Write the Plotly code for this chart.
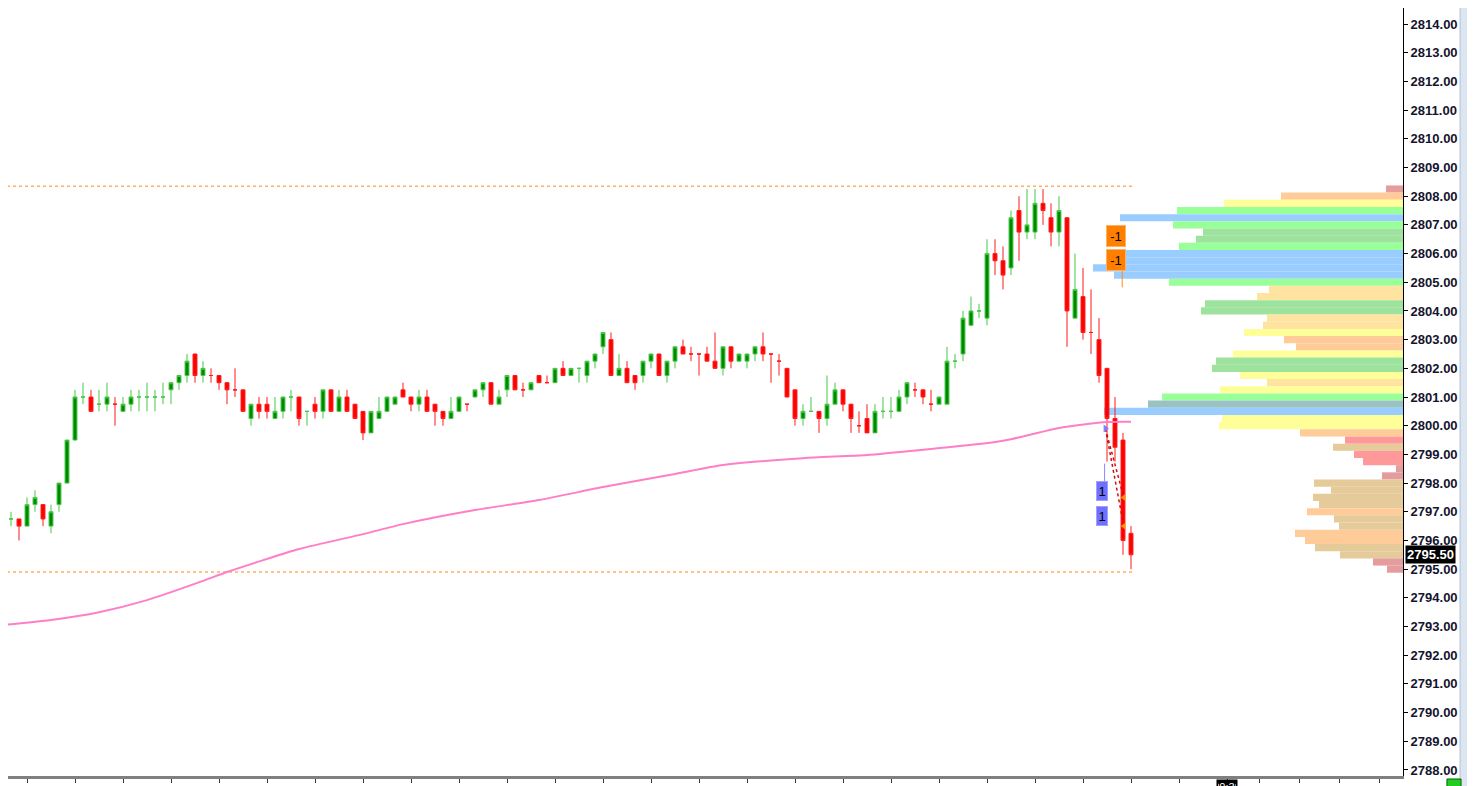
import plotly.graph_objects as go

# candles (5 min bars), oldest first
opens = [2796.5, 2796.75, 2796.75, 2796.5, 2797.25, 2797.25, 2796.5, 2797.25, 2798.0, 2799.5,
         2801.0, 2801.0, 2800.75, 2800.75, 2800.75, 2800.5, 2800.75, 2801.0, 2801.0, 2801.0,
         2801.0, 2801.25, 2801.5, 2801.75, 2802.5, 2801.75, 2801.75, 2801.75, 2801.5, 2801.25,
         2801.25, 2800.25, 2800.75, 2800.75, 2800.25, 2800.5, 2801.0, 2801.0, 2800.5, 2800.75,
         2800.5, 2801.25, 2800.5, 2801.0, 2800.75, 2800.5, 2799.75, 2800.25, 2800.5, 2800.75,
         2801.25, 2801.0, 2800.75, 2801.0, 2800.75, 2800.5, 2800.25, 2800.5, 2800.75, 2801.0,
         2801.25, 2801.5, 2800.75, 2801.25, 2801.75, 2801.25, 2801.25, 2801.75, 2801.5, 2801.5,
         2802.0, 2801.75, 2802.0, 2801.75, 2802.25, 2802.75, 2803.0, 2801.75, 2802.0, 2801.75,
         2801.75, 2802.25, 2802.5, 2801.75, 2802.25, 2802.75, 2802.5, 2802.5, 2802.5, 2802.25,
         2802.0, 2802.75, 2802.25, 2802.25, 2802.5, 2802.75, 2802.5, 2802.25, 2802.0, 2801.25,
         2800.25, 2800.5, 2800.5, 2800.25, 2800.75, 2801.25, 2800.75, 2800.0, 2800.25, 2799.75,
         2800.5, 2800.5, 2800.5, 2801.0, 2801.25, 2801.25, 2800.75, 2800.75, 2800.75, 2802.25,
         2802.5, 2803.5, 2804.0, 2803.75, 2806.0, 2805.75, 2805.5, 2807.5, 2806.75, 2806.75,
         2807.75, 2807.25, 2806.75, 2807.25, 2803.75, 2804.5, 2803.25, 2803.0, 2802.0, 2800.25,
         2799.5, 2796.25]
highs = [2797.25, 2797.0, 2796.75, 2797.5, 2797.75, 2797.25, 2797.25, 2798.0, 2799.5, 2801.25,
         2801.5, 2801.25, 2801.25, 2801.5, 2801.0, 2801.0, 2801.25, 2801.25, 2801.5, 2801.25,
         2801.5, 2801.5, 2801.75, 2802.5, 2802.5, 2802.25, 2802.0, 2801.75, 2801.5, 2802.0,
         2801.25, 2800.75, 2801.0, 2801.0, 2801.0, 2801.0, 2801.25, 2801.0, 2800.5, 2801.0,
         2801.25, 2801.25, 2801.25, 2801.25, 2800.75, 2800.5, 2800.5, 2801.0, 2801.0, 2801.0,
         2801.5, 2801.0, 2801.25, 2801.25, 2800.75, 2800.5, 2801.0, 2801.0, 2800.75, 2801.25,
         2801.5, 2801.5, 2801.25, 2801.75, 2801.75, 2801.5, 2801.5, 2801.75, 2801.75, 2802.0,
         2802.25, 2802.0, 2802.0, 2802.25, 2802.5, 2803.25, 2803.25, 2802.5, 2802.25, 2801.75,
         2802.25, 2802.5, 2802.5, 2802.25, 2802.75, 2803.0, 2802.75, 2802.5, 2802.75, 2803.25,
         2802.75, 2802.75, 2802.5, 2802.5, 2802.75, 2803.25, 2802.5, 2802.5, 2802.0, 2801.25,
         2800.75, 2801.0, 2800.5, 2801.75, 2801.5, 2801.25, 2800.75, 2800.5, 2800.75, 2800.75,
         2801.0, 2801.0, 2801.25, 2801.5, 2801.5, 2801.25, 2801.25, 2801.0, 2802.75, 2802.5,
         2804.0, 2804.5, 2804.25, 2806.5, 2806.5, 2806.25, 2807.5, 2808.0, 2808.25, 2808.25,
         2808.25, 2807.75, 2808.0, 2807.25, 2806.0, 2805.5, 2804.75, 2803.75, 2802.0, 2801.0,
         2799.75, 2796.5]
lows = [2796.25, 2796.5, 2796.0, 2796.5, 2797.0, 2796.5, 2796.25, 2797.0, 2798.0, 2799.5,
        2800.75, 2800.5, 2800.5, 2800.5, 2800.0, 2800.5, 2800.5, 2800.5, 2800.5, 2800.5,
        2800.75, 2800.75, 2801.25, 2801.5, 2801.5, 2801.5, 2801.5, 2801.25, 2800.75, 2801.0,
        2800.5, 2800.0, 2800.25, 2800.25, 2800.25, 2800.25, 2800.5, 2800.0, 2800.0, 2800.25,
        2800.25, 2800.5, 2800.5, 2800.5, 2800.25, 2799.5, 2799.75, 2800.25, 2800.5, 2800.75,
        2801.0, 2800.5, 2800.5, 2800.5, 2800.0, 2800.0, 2800.25, 2800.5, 2800.5, 2801.0,
        2801.0, 2800.75, 2800.75, 2801.0, 2801.25, 2801.0, 2801.25, 2801.5, 2801.5, 2801.5,
        2801.75, 2801.75, 2801.5, 2801.5, 2802.0, 2802.5, 2801.75, 2801.75, 2801.5, 2801.25,
        2801.5, 2802.0, 2801.75, 2801.5, 2802.0, 2802.5, 2802.25, 2801.75, 2802.25, 2802.0,
        2801.75, 2802.0, 2802.25, 2802.0, 2802.25, 2802.25, 2801.5, 2801.75, 2801.0, 2800.0,
        2800.0, 2800.5, 2799.75, 2800.0, 2800.75, 2800.5, 2799.75, 2799.75, 2799.75, 2799.75,
        2800.25, 2800.25, 2800.5, 2800.75, 2801.0, 2800.75, 2800.5, 2800.75, 2800.75, 2802.0,
        2802.25, 2803.5, 2803.75, 2803.5, 2805.25, 2804.75, 2805.25, 2805.75, 2806.5, 2806.5,
        2807.0, 2806.25, 2806.25, 2802.75, 2803.75, 2803.0, 2802.5, 2801.5, 2798.75, 2798.75,
        2795.5, 2795.0]
closes = [2796.75, 2796.75, 2796.5, 2797.25, 2797.5, 2796.75, 2797.0, 2798.0, 2799.5, 2801.0,
          2801.0, 2800.5, 2800.75, 2801.0, 2800.75, 2800.75, 2801.0, 2801.0, 2801.0, 2801.0,
          2801.0, 2801.5, 2801.75, 2802.25, 2801.75, 2802.0, 2801.75, 2801.5, 2801.25, 2801.25,
          2800.5, 2800.75, 2800.5, 2800.5, 2800.5, 2801.0, 2801.0, 2800.25, 2800.5, 2800.5,
          2801.25, 2800.5, 2801.0, 2800.5, 2800.25, 2799.75, 2800.5, 2800.5, 2801.0, 2801.0,
          2801.0, 2800.75, 2801.0, 2800.5, 2800.5, 2800.25, 2800.5, 2801.0, 2800.75, 2801.25,
          2801.5, 2800.75, 2801.0, 2801.75, 2801.25, 2801.25, 2801.5, 2801.5, 2801.5, 2802.0,
          2801.75, 2802.0, 2802.0, 2802.25, 2802.5, 2803.25, 2801.75, 2802.0, 2801.5, 2801.5,
          2802.25, 2802.5, 2801.75, 2802.25, 2802.75, 2802.5, 2802.5, 2802.5, 2802.25, 2802.0,
          2802.75, 2802.25, 2802.5, 2802.5, 2802.75, 2802.5, 2802.5, 2802.25, 2801.0, 2800.25,
          2800.5, 2800.5, 2800.25, 2800.75, 2801.25, 2800.75, 2800.25, 2800.0, 2799.75, 2800.5,
          2800.5, 2800.5, 2801.0, 2801.5, 2801.25, 2801.0, 2800.75, 2801.0, 2802.25, 2802.25,
          2803.75, 2804.0, 2804.0, 2806.0, 2805.75, 2805.25, 2807.25, 2806.75, 2807.0, 2807.75,
          2807.5, 2806.75, 2807.5, 2804.0, 2804.75, 2803.25, 2803.25, 2801.75, 2800.25, 2799.25,
          2796.0, 2795.5]
# open == close bars that printed red
red_dojis = [14, 26, 29, 58, 65, 68, 86, 87, 96, 97, 107, 114, 116, 136]

# moving average, read at a few bars
sma_bar = [-1, 0, 6, 12, 18, 25, 28, 37, 45, 50, 59, 67, 75, 84, 90, 100, 108, 116, 122, 126, 132, 138, 141]
sma_val = [2793.0, 2793.05, 2793.23, 2793.5, 2793.92, 2794.59, 2794.9, 2795.7, 2796.22, 2796.57, 2797.06,
           2797.41, 2797.86, 2798.32, 2798.63, 2798.87, 2798.98, 2799.19, 2799.36, 2799.53, 2799.92,
           2800.13, 2800.14]

session_high = 2808.35
session_low = 2794.9

# volume profile
vp_price = [2808.25, 2808.0, 2807.75, 2807.5, 2807.25, 2807.0, 2806.75, 2806.5, 2806.25, 2806.0,
            2805.75, 2805.5, 2805.25, 2805.0, 2804.75, 2804.5, 2804.25, 2804.0, 2803.75, 2803.5,
            2803.25, 2803.0, 2802.75, 2802.5, 2802.25, 2802.0, 2801.75, 2801.5, 2801.25, 2801.0,
            2800.75, 2800.5, 2800.25, 2800.0, 2799.75, 2799.5, 2799.25, 2799.0, 2798.75, 2798.5,
            2798.25, 2798.0, 2797.75, 2797.5, 2797.25, 2797.0, 2796.75, 2796.5, 2796.25, 2796.0,
            2795.75, 2795.5, 2795.25, 2795.0]
vp_volume = [17, 122, 179, 226, 283, 230, 200, 207, 224, 281,
             281, 310, 289, 234, 134, 146, 198, 202, 136, 140,
             159, 119, 107, 170, 187, 191, 163, 136, 183, 241,
             255, 299, 181, 184, 103, 58, 70, 49, 40, 7,
             21, 89, 72, 90, 84, 96, 69, 64, 108, 98,
             88, 63, 30, 16]
vp_class = ['R', 'P', 'Y', 'G', 'B', 'G', 'g', 'g', 'G', 'B',
            'B', 'B', 'B', 'G', 'T', 'T', 'g', 'g', 'T', 'T',
            'Y', 'P', 'P', 'Y', 'g', 'g', 'Y', 'T', 'Y', 'G',
            'C', 'B', 'Y', 'Y', 'P', 'S', 'K', 'S', 'S', 'R',
            'R', 'K', 'K', 'K', 'K', 'P', 'K', 'K', 'P', 'P',
            'K', 'K', 'R', 'R']
vp_colors = {'G': '#99FF99', 'g': '#9DE39D', 'B': '#99CCFF', 'Y': '#FFFF99', 'P': '#FFCC99',
             'T': '#FFE3A0', 'K': '#E5CA9A', 'S': '#FF9999', 'R': '#E59C9C', 'C': '#99C2C2'}

# trades
entry_bar, entry_price = 137.8, 2799.9
exit_bar = 140.1
exit_prices = [2797.5, 2796.5]
buy_tags = [2797.73, 2796.85]
sell_tags = [2806.6, 2805.77]

tick_bars = [3, 9, 15, 21, 27, 33, 39, 45, 51, 57, 63, 69, 75, 81, 87, 93, 99, 105, 111, 117,
             123, 129, 135, 141, 147, 153, 157, 162, 167, 172]
tick_text = ['08:00', '08:30', '09:00', '09:30', '10:00', '10:30', '11:00', '11:30', '12:00', '12:30',
             '13:00', '13:30', '14:00', '14:30', '15:00', '15:30', '16:00', '16:30', '17:00', '17:30',
             '18:00', '18:30', '19:00', '19:30', '20:00', '', '20:50', '21:15', '21:40', '22:05']

bars = list(range(len(opens)))
up = [c > o or (c == o and k not in red_dojis) for k, (o, c) in enumerate(zip(opens, closes))]

fig = go.Figure()

# profile on the base axis so the candles sit on top of it
fig.add_trace(go.Bar(
    x=vp_volume, y=vp_price, orientation='h', width=0.25,
    marker=dict(color=[vp_colors[c] for c in vp_class], line=dict(width=0)),
    xaxis='x', yaxis='y'))

fig.add_trace(go.Scatter(
    x=[bars[0] - 1, bars[-1] + 0.3], y=[session_high, session_high], mode='lines',
    line=dict(color='#FFB060', width=1.5, dash='dot'), xaxis='x2'))
fig.add_trace(go.Scatter(
    x=[bars[0] - 1, bars[-1] + 0.3], y=[session_low, session_low], mode='lines',
    line=dict(color='#FFB060', width=1.5, dash='dot'), xaxis='x2'))

fig.add_trace(go.Scatter(
    x=sma_bar, y=sma_val, mode='lines', line=dict(color='#FF7EC6', width=2, shape='spline', smoothing=0.6),
    xaxis='x2'))

for want_up, line_col, fill_col in [(True, '#45C845', '#008A00'), (False, '#FF1A1A', '#FF0000')]:
    sel = [k for k in bars if up[k] == want_up]
    style = dict(line=dict(color=line_col, width=1), fillcolor=fill_col)
    fig.add_trace(go.Candlestick(
        x=sel, open=[opens[k] for k in sel], high=[highs[k] for k in sel],
        low=[lows[k] for k in sel], close=[closes[k] for k in sel],
        increasing=style, decreasing=style, whiskerwidth=0, xaxis='x2', hoverinfo='skip'))

# trade lines and fills
for p in exit_prices:
    fig.add_trace(go.Scatter(x=[entry_bar, exit_bar], y=[entry_price, p], mode='lines',
                             line=dict(color='#CC1010', width=1.5, dash='dot'), xaxis='x2'))
fig.add_trace(go.Scatter(x=[entry_bar - 0.1, entry_bar - 0.1], y=[buy_tags[0] + 0.3, buy_tags[0] + 0.95],
                         mode='lines', line=dict(color='#8888FF', width=1), xaxis='x2'))
fig.add_trace(go.Scatter(x=[exit_bar - 0.2, exit_bar - 0.2], y=[sell_tags[1] - 0.3, sell_tags[1] - 0.95],
                         mode='lines', line=dict(color='#FF8C1A', width=1), xaxis='x2'))
fig.add_trace(go.Scatter(x=[entry_bar], y=[entry_price], mode='markers',
                         marker=dict(symbol='triangle-right', size=7, color='#8080FF'), xaxis='x2'))
fig.add_trace(go.Scatter(x=[exit_bar] * len(exit_prices), y=exit_prices, mode='markers',
                         marker=dict(symbol='triangle-left', size=6, color='#FF9900'), xaxis='x2'))

for p in buy_tags:
    fig.add_annotation(x=entry_bar - 0.4, y=p, xref='x2', yref='y', text='1', showarrow=False,
                       bgcolor='#7070FF', bordercolor='#A0A0FF', borderwidth=1, width=8, height=16,
                       font=dict(family='Liberation Sans', size=13, color='#000000'))
for p in sell_tags:
    fig.add_annotation(x=entry_bar + 1.3, y=p, xref='x2', yref='y', text='-1', showarrow=False,
                       bgcolor='#FF8000', bordercolor='#FFB060', borderwidth=1, width=16, height=18,
                       font=dict(family='Liberation Sans', size=13, color='#000000'))

fig.add_annotation(x=1, xref='paper', xanchor='left', xshift=2, y=closes[-1], yref='y',
                   text=f'<b>{closes[-1]:.2f}</b>', showarrow=False, bgcolor='#000000', borderpad=1,
                   font=dict(family='Liberation Sans', size=13, color='#FFFFFF'))
fig.add_annotation(x=153, xref='x2', y=0, yref='paper', yanchor='top', yshift=-3, text='20:30',
                   showarrow=False, bgcolor='#000000', width=18,
                   font=dict(family='Liberation Sans', size=11, color='#FFFFFF'))

# scrollbar strip and status square (the page body adds an 8px offset)
fig.add_shape(type='rect', xref='paper', yref='paper', x0=1.0409, x1=1.06, y0=-0.02, y1=1.02,
              fillcolor='#DCE6F2', line=dict(color='#B4C0CE', width=1), layer='below')
fig.add_shape(type='rect', xref='paper', yref='paper', x0=1.0315, x1=1.0416, y0=-0.02, y1=-0.0039,
              fillcolor='#22CC22', line=dict(color='#006600', width=1))

fig.update_layout(
    width=1467, height=778, template='none',
    margin=dict(l=0, r=72, t=0, b=10),
    paper_bgcolor='white', plot_bgcolor='white',
    showlegend=False, hovermode=False, boxgap=0.3,
    xaxis=dict(range=[1395, 0], visible=False, fixedrange=True, rangeslider=dict(visible=False)),
    xaxis2=dict(overlaying='x', anchor='y', side='bottom', range=[0.625, 175],
                tickvals=tick_bars, ticktext=tick_text, ticks='outside', ticklen=4, tickcolor='#333333',
                showline=True, linecolor='#808080', linewidth=3, showgrid=False, zeroline=False,
                automargin=False, rangeslider=dict(visible=False),
                tickfont=dict(family='Liberation Sans', size=11, color='#555555')),
    yaxis=dict(range=[2787.79, 2814.56], side='right', tickvals=list(range(2788, 2815)),
               tickformat='.2f', ticks='outside', ticklen=4, tickcolor='#000000',
               showline=True, linecolor='#000000', linewidth=1, showgrid=False, zeroline=False,
               automargin=False,
               tickfont=dict(family='Liberation Sans', size=13, color='#14142E', weight='bold')),
)

fig.write_html('out.html')
